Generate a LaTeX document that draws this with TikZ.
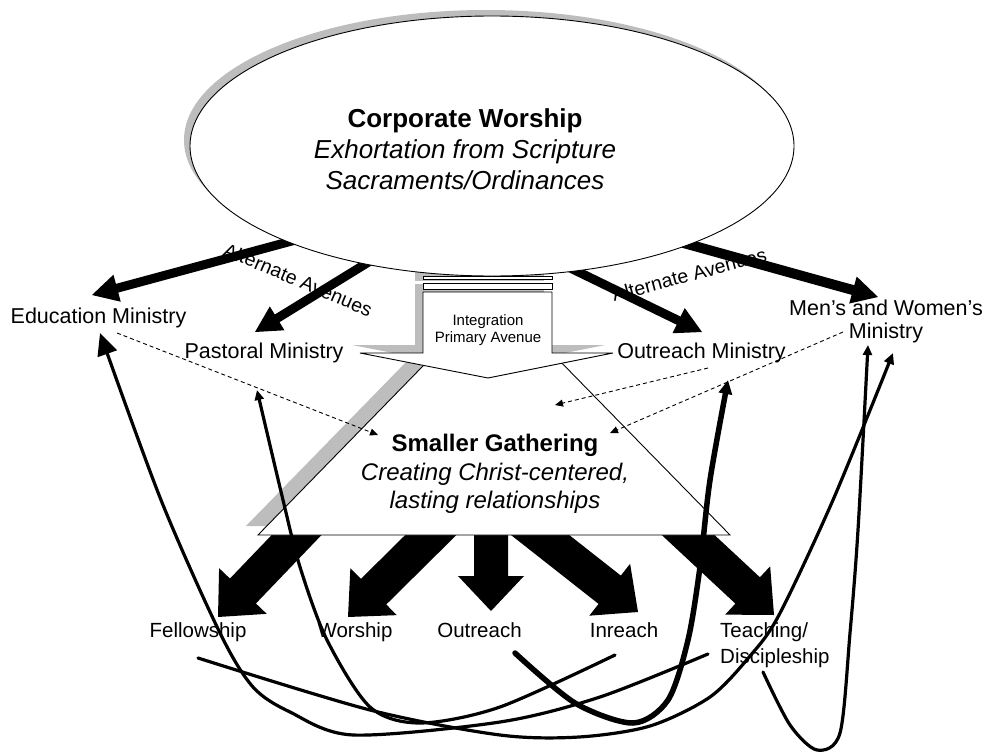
\documentclass[tikz,border=0pt]{standalone}
\usepackage{fontspec}
\setmainfont{Liberation Sans}
\usetikzlibrary{arrows.meta,calc}
\definecolor{shadowgray}{gray}{0.74}
% block arrow: style, start, tip, half shaft width, half head width, head length
\newcommand\blkarrow[6]{%
  \coordinate (ba-h) at ($(#3)!#6!(#2)$);
  \fill[#1] (#3) -- ($(ba-h)!#5!90:(#3)$) -- ($(ba-h)!#4!90:(#3)$)
    -- ($(#2)!#4!90:(#3)$) -- ($(#2)!#4!-90:(#3)$)
    -- ($(ba-h)!#4!-90:(#3)$) -- ($(ba-h)!#5!-90:(#3)$) -- cycle;}
\tikzset{
  bigtxt/.style={font=\fontsize{26}{31}\selectfont, inner sep=0pt, align=center},
  midtxt/.style={font=\fontsize{24}{28.5}\selectfont, inner sep=0pt, align=center},
  lbl/.style={font=\fontsize{21.5}{23}\selectfont, inner sep=0pt, align=center, anchor=base},
  sublbl/.style={font=\fontsize{20.5}{26}\selectfont, inner sep=0pt, anchor=base},
  altlbl/.style={font=\fontsize{19.5}{22}\selectfont, inner sep=0pt, anchor=base west},
  smalltxt/.style={font=\fontsize{15}{17}\selectfont, inner sep=0pt, align=center},
  outline/.style={draw=black, line width=0.9pt, fill=white},
  dashlink/.style={draw, line width=0.9pt, dash pattern=on 4pt off 3pt,
    -{Triangle[length=8pt,width=7pt]}},
  link/.style={draw, line width=3.2pt, line cap=round},
}
\begin{document}
\begin{tikzpicture}[x=1pt,y=-1pt]
\useasboundingbox (0,0) rectangle (988,752);
\fill[white] (0,0) rectangle (988,752);

% labels along the alternate avenues
\node[altlbl, rotate=-23] (altL) at (222,255) {Alternate Avenues};
\node[altlbl, rotate=15] (altR) at (614,302) {Alternate Avenues};

% arrows from corporate worship to the ministries
\coordinate (cw-edu) at (314,235);  \coordinate (edu-tip) at (92,295);
\coordinate (cw-pas) at (380,255);  \coordinate (pas-tip) at (255,332);
\coordinate (cw-out) at (560,263);  \coordinate (out-tip) at (702,332);
\coordinate (cw-mw)  at (680,242);  \coordinate (mw-tip)  at (878,297);
\blkarrow{black}{cw-edu}{edu-tip}{4.5pt}{14pt}{26pt}
\blkarrow{black}{cw-pas}{pas-tip}{4.5pt}{14pt}{26pt}
\blkarrow{black}{cw-out}{out-tip}{4.5pt}{14pt}{26pt}
\blkarrow{black}{cw-mw}{mw-tip}{5pt}{14pt}{26pt}

% arrows from the smaller gathering to its functions
\coordinate (sg-fel) at (311,520); \coordinate (fel-tip) at (218,617);
\coordinate (sg-wor) at (446,520); \coordinate (wor-tip) at (348,617);
\coordinate (sg-out) at (491,520); \coordinate (outr-tip) at (491,611);
\coordinate (sg-inr) at (521,520); \coordinate (inr-tip) at (638,612);
\coordinate (sg-tea) at (672,520); \coordinate (tea-tip) at (774,615);
\blkarrow{black}{sg-fel}{fel-tip}{18pt}{33pt}{36pt}
\blkarrow{black}{sg-wor}{wor-tip}{18pt}{33pt}{36pt}
\blkarrow{black}{sg-out}{outr-tip}{17pt}{33pt}{35pt}
\blkarrow{black}{sg-inr}{inr-tip}{18pt}{33pt}{36pt}
\blkarrow{black}{sg-tea}{tea-tip}{18pt}{33pt}{36pt}

% smaller gathering
\fill[shadowgray, shift={(-12,-9)}] (433.7,355) -- (258,535) -- (730,535) -- (554,355) -- cycle;
\path[outline] (433.7,355) -- (258,535) -- (730,535) -- (554,355) -- cycle;
\node[midtxt] (sg) at (495,474) {\textbf{Smaller Gathering}\\\textit{Creating Christ-centered,}\\\textit{lasting relationships}};

% integration block arrow
\begin{scope}[shift={(-8,-8)}]
  \fill[shadowgray] (423,276) rectangle (552,289);
  \fill[shadowgray] (423,292) -- (423,353) -- (360,353) -- (488,378) -- (613,353) -- (552,353) -- (552,292) -- cycle;
\end{scope}
\path[outline] (423,276) rectangle (552,279.5);
\path[outline] (423,283) rectangle (552,289);
\path[outline] (423,292) -- (423,353) -- (360,353) -- (488,378) -- (613,353) -- (552,353) -- (552,292) -- cycle;
\node[smalltxt] (integ) at (488,330) {Integration\\Primary Avenue};

% corporate worship
\fill[shadowgray] (486,140) ellipse [x radius=302pt, y radius=130pt];
\path[outline] (492,146) ellipse [x radius=302pt, y radius=130pt];
\node[bigtxt] (cw) at (465,149) {\textbf{Corporate Worship}\\\textit{Exhortation from Scripture}\\\textit{Sacraments/Ordinances}};

% ministries
\node[lbl] (edu) at (98.5,323) {Education Ministry};
\node[lbl] (pas) at (264,358) {Pastoral Ministry};
\node[lbl] (outm) at (701.5,358) {Outreach Ministry};
\node[lbl] (mw) at (886,338) {Men’s and Women’s\\Ministry};

% dashed links into the smaller gathering
\coordinate (edu-d) at (117,333);  \coordinate (sg-d1) at (378,435);
\coordinate (outm-d) at (708,368); \coordinate (sg-d2) at (555,405);
\coordinate (mw-d) at (843,332);   \coordinate (sg-d3) at (610,433);
\draw[dashlink] (edu-d) -- (sg-d1);
\draw[dashlink] (outm-d) -- (sg-d2);
\draw[dashlink] (mw-d) -- (sg-d3);

% functions of the smaller gathering
\node[sublbl] (fel) at (198,637) {Fellowship};
\node[sublbl] (wor) at (355,637) {Worship};
\node[sublbl] (outr) at (479.5,637) {Outreach};
\node[sublbl] (inr) at (624,637) {Inreach};
\node[sublbl, anchor=base west, align=left] (tea) at (720,663) {Teaching/\\Discipleship};

% curved links back up to the ministries
\coordinate (fel-c) at (198,658);  \coordinate (mw-c1) at (893,353);
\coordinate (outr-c) at (515,653); \coordinate (outm-c) at (728,380);
\coordinate (inr-c) at (615,655);  \coordinate (pas-c) at (257,390);
\coordinate (tea-c1) at (708,654); \coordinate (edu-c) at (100,333);
\coordinate (tea-c2) at (763,672); \coordinate (mw-c2) at (868,345);
\draw[link, -{Triangle[length=11pt,width=10pt]}] plot[smooth] coordinates
  {(fel-c) (370,710) (500,735) (579,737) (650,726) (710,697) (750,656) (779,615) (833,500) (mw-c1)};
\draw[link, line width=5.5pt, -{Triangle[length=14pt,width=13pt]}] plot[smooth] coordinates
  {(outr-c) (575,703) (633,723) (668,700) (688,640) (700,567) (710,480) (outm-c)};
\draw[link, -{Triangle[length=10pt,width=9pt]}] plot[smooth] coordinates
  {(inr-c) (500,707) (420,723) (370,707) (327,640) (300,567) (283,500) (pas-c)};
\draw[link, -{Triangle[length=22pt,width=20pt]}] plot[smooth] coordinates
  {(tea-c1) (600,697) (500,722) (353,735) (290,712) (253,687) (220,633) (161,500) (edu-c)};
\draw[link, -{Triangle[length=10pt,width=9pt]}] plot[smooth] coordinates
  {(tea-c2) (790,725) (817,750) (840,733) (850,633) (858,530) (mw-c2)};
\end{tikzpicture}
\end{document}
